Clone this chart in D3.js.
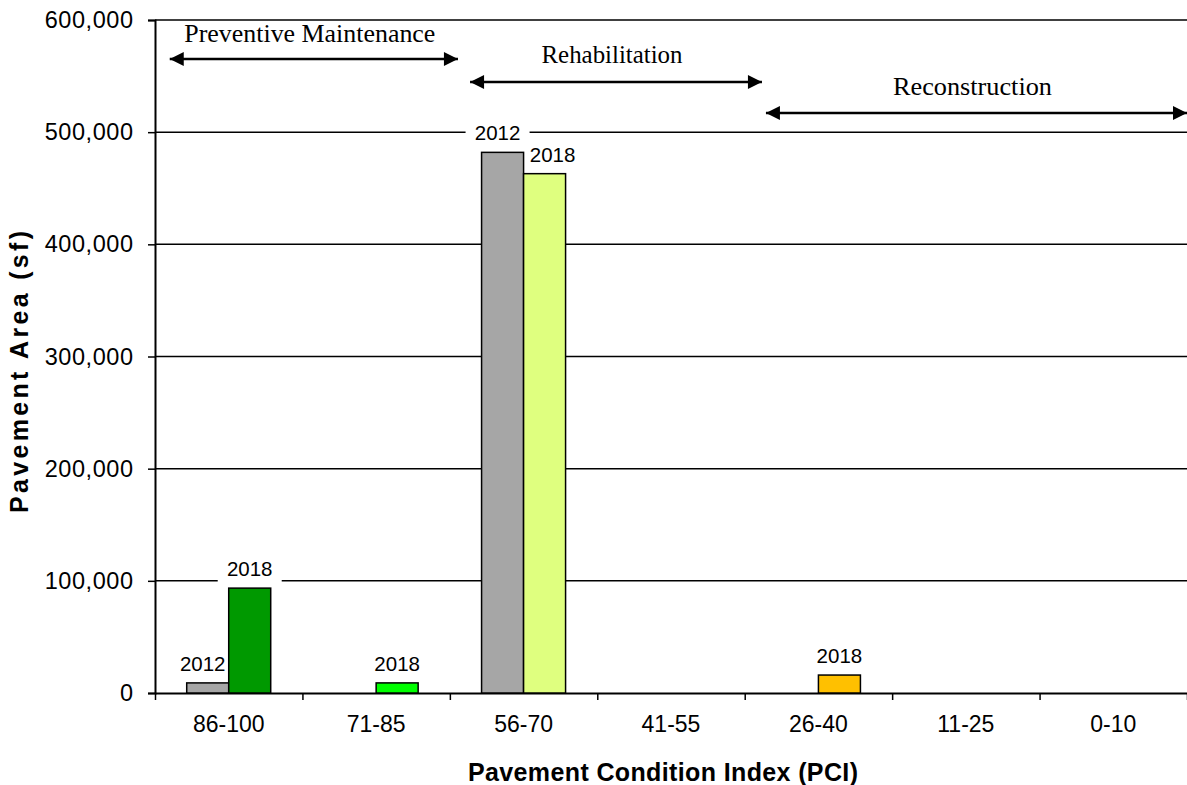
<!DOCTYPE html>
<html><head><meta charset="utf-8">
<script src="https://cdn.jsdelivr.net/npm/d3@7/dist/d3.min.js"></script>
<style>body{margin:0;background:#fff}</style>
</head><body><svg id="c" width="1187" height="785"></svg>
<script>
const categories = ["86-100","71-85","56-70","41-55","26-40","11-25","0-10"];
const years = ["2012","2018"];
const values2012 = [9000, 0, 482000, 0, 0, 0, 0];
const values2018 = [93500, 9000, 463000, 0, 16000, 0, 0];
const colors2018 = ["#009900","#00FF00","#DFFF7F","#DFFF7F","#FFC000","#FF6600","#FF0000"];
const color2012 = "#A6A6A6";
const yTicks = [0,100000,200000,300000,400000,500000,600000];
const zones = [
  {label:"Preventive Maintenance", from:0.10, to:2.055, level:0, tl:251},
  {label:"Rehabilitation", from:2.137, to:4.117, level:1, tl:141},
  {label:"Reconstruction", from:4.144, to:7.0, level:2, tl:159}
];

const svg = d3.select("#c");
const L=155, R=1187, T=20, B=693;
const x = d3.scaleBand().domain(categories).range([L,R]).paddingInner(0).paddingOuter(0);
const xc = d3.scaleLinear().domain([0,7]).range([L,R]);
const y = d3.scaleLinear().domain([0,600000]).range([B,T]);
const bw = 42;
const SANS = "Arial, Liberation Sans, sans-serif";

function stretch(sel, k){
  sel.each(function(){ const w=this.getComputedTextLength(); d3.select(this).attr("textLength", w*k).attr("lengthAdjust","spacing"); });
}

// gridlines
svg.append("g").selectAll("line").data(yTicks.slice(1)).join("line")
  .attr("x1",L).attr("x2",R).attr("y1",d=>y(d)).attr("y2",d=>y(d))
  .attr("stroke","#000").attr("stroke-width",1.5);

// y axis
const ya = svg.append("g").attr("transform",`translate(${L},0)`)
  .call(d3.axisLeft(y).tickValues(yTicks).tickFormat(d3.format(",")).tickSize(7).tickPadding(15));
ya.select(".domain").attr("stroke-width",2);
ya.selectAll(".tick line").attr("stroke-width",1.5);
ya.selectAll("text").attr("font-family",SANS).attr("font-size",23.5).attr("fill","#000").attr("text-anchor","end");
stretch(ya.selectAll("text"), 1.04);

// x axis
const xa = svg.append("g").attr("transform",`translate(0,${B})`)
  .call(d3.axisBottom(xc).tickValues(d3.range(0,8)).tickFormat("").tickSize(7).tickSizeOuter(0));
xa.select(".domain").attr("stroke-width",2);
xa.selectAll(".tick line").attr("stroke-width",1.5);
svg.append("g").selectAll("text").data(categories).join("text")
  .attr("x",d=>x(d)+x.bandwidth()/2).attr("y",B+39)
  .attr("text-anchor","middle").attr("font-family",SANS).attr("font-size",23)
  .text(d=>d);

// bar data
const data = [];
categories.forEach((c,i)=>{
  data.push({cat:c, year:"2012", v:values2012[i], other:values2018[i], color:color2012, off:-bw});
  data.push({cat:c, year:"2018", v:values2018[i], other:values2012[i], color:colors2018[i], off:0});
});
const nz = data.filter(d=>d.v>0);
// label nudge: 2012 labels lean left; 2018 labels move right when the neighbouring 2012 bar is taller
const nudge = d => d.year==="2012" ? -5 : (d.other > d.v ? 8 : 0);
const lx = d=>x(d.cat)+x.bandwidth()/2+d.off+bw/2+nudge(d);

// label backgrounds (cover gridlines only)
svg.append("g").selectAll("rect").data(nz).join("rect")
  .attr("x",d=>lx(d)-32).attr("y",d=>y(d.v)-30).attr("width",64).attr("height",24).attr("fill","#fff");

// bars
svg.append("g").selectAll("rect").data(nz).join("rect")
  .attr("x",d=>x(d.cat)+x.bandwidth()/2+d.off).attr("width",bw)
  .attr("y",d=>y(d.v)).attr("height",d=>B-y(d.v))
  .attr("fill",d=>d.color).attr("stroke","#000").attr("stroke-width",1.5);

// label text
svg.append("g").selectAll("text").data(nz).join("text")
  .attr("x",lx).attr("y",d=>y(d.v)-12)
  .attr("text-anchor","middle").attr("font-family",SANS).attr("font-size",20.5).text(d=>d.year);

// zone annotations
const defs = svg.append("defs");
defs.append("marker").attr("id","ah").attr("viewBox","0 0 10 10").attr("refX",10).attr("refY",5)
  .attr("markerWidth",6.5).attr("markerHeight",5.6).attr("markerUnits","strokeWidth").attr("orient","auto-start-reverse")
  .append("path").attr("d","M0,0 L10,5 L0,10 Z").attr("fill","#000");
const arrowY = [59, 82, 113];
const textY = [42, 63, 95];
const zg = svg.append("g").selectAll("g").data(zones).join("g");
zg.append("line").attr("x1",d=>xc(d.from)).attr("x2",d=>xc(d.to))
  .attr("y1",d=>arrowY[d.level]).attr("y2",d=>arrowY[d.level])
  .attr("stroke","#000").attr("stroke-width",2.5)
  .attr("marker-start","url(#ah)").attr("marker-end","url(#ah)");
zg.append("text").attr("x",d=>(xc(d.from)+xc(d.to))/2-4).attr("y",d=>textY[d.level])
  .attr("text-anchor","middle").attr("font-family","Liberation Serif, Times New Roman, serif").attr("font-size",25)
  .attr("textLength",d=>d.tl).attr("lengthAdjust","spacingAndGlyphs")
  .text(d=>d.label);

// axis titles
svg.append("text").attr("transform",`translate(28,372) rotate(-90)`).attr("text-anchor","middle")
  .attr("font-family",SANS).attr("font-size",25).attr("font-weight","bold")
  .attr("textLength",282).attr("lengthAdjust","spacing")
  .text("Pavement Area (sf)");
svg.append("text").attr("x",663).attr("y",781).attr("text-anchor","middle")
  .attr("font-family",SANS).attr("font-size",25).attr("font-weight","bold")
  .attr("textLength",390).attr("lengthAdjust","spacing")
  .text("Pavement Condition Index (PCI)");
</script></body></html>
